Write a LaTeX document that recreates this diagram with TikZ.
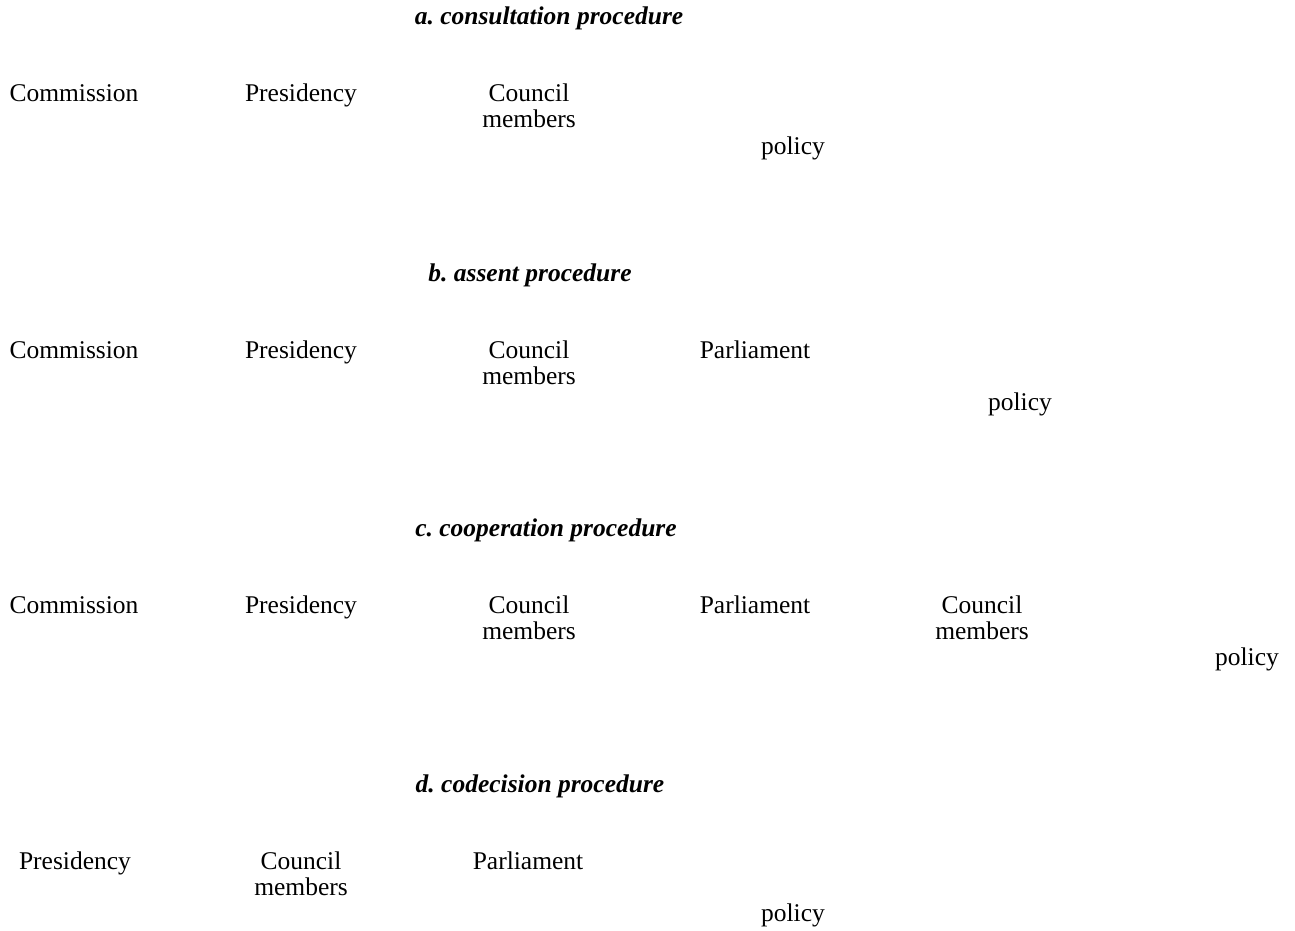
\documentclass[tikz,border=0pt]{standalone}
\usepackage{fontspec}
\setmainfont{Liberation Serif}
\frenchspacing
\begin{document}
\begin{tikzpicture}[x=1pt,y=-1pt,
  lbl/.style={inner sep=0pt,anchor=base,align=center,font=\fontsize{25.5}{26}\selectfont},
  ttl/.style={inner sep=0pt,anchor=base,font=\fontsize{25.5}{26}\selectfont\bfseries\itshape}]
\useasboundingbox (0,0) rectangle (1295,931);
% a
\node[ttl] (ta) at (549,25) {a. consultation procedure};
\node[lbl] (a1) at (74,102) {Commission};
\node[lbl] (a2) at (301,102) {Presidency};
\node[lbl] (a3) at (529,128) {Council\\members};
\node[lbl] (a4) at (793,154) {policy};
% b
\node[ttl] (tb) at (530,281) {b. assent procedure};
\node[lbl] (b1) at (74,358) {Commission};
\node[lbl] (b2) at (301,358) {Presidency};
\node[lbl] (b3) at (529,384) {Council\\members};
\node[lbl] (b4) at (755,358) {Parliament};
\node[lbl] (b5) at (1020,410) {policy};
% c
\node[ttl] (tc) at (546,536) {c. cooperation procedure};
\node[lbl] (c1) at (74,613) {Commission};
\node[lbl] (c2) at (301,613) {Presidency};
\node[lbl] (c3) at (529,639) {Council\\members};
\node[lbl] (c4) at (755,613) {Parliament};
\node[lbl] (c5) at (982,639) {Council\\members};
\node[lbl] (c6) at (1247,665) {policy};
% d
\node[ttl] (td) at (540,792) {d. codecision procedure};
\node[lbl] (d1) at (75,869) {Presidency};
\node[lbl] (d2) at (301,895) {Council\\members};
\node[lbl] (d3) at (528,869) {Parliament};
\node[lbl] (d4) at (793,921) {policy};
\end{tikzpicture}
\end{document}
